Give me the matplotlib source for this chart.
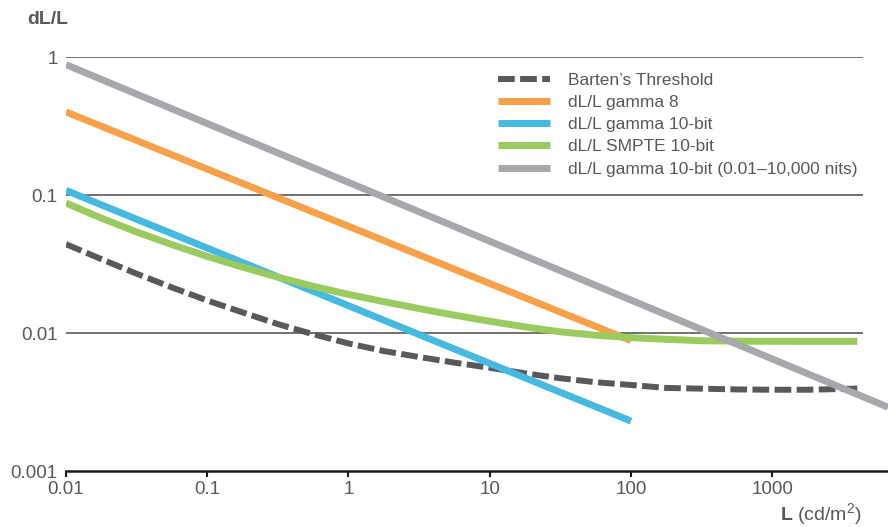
import numpy as np
import matplotlib.pyplot as plt

plt.rcParams['font.family'] = ['Liberation Sans', 'DejaVu Sans']
plt.rcParams['mathtext.fontset'] = 'custom'
plt.rcParams['mathtext.rm'] = 'Liberation Sans'
plt.rcParams['mathtext.bf'] = 'Liberation Sans:bold'

# values (log-log), quarter-decade steps
curve_L = [0.01, 0.0178, 0.0316, 0.0562, 0.1, 0.178, 0.316, 0.562, 1, 1.78, 3.16, 5.62,
           10, 17.8, 31.6, 56.2, 100, 178, 316, 562, 1000, 1780, 3160, 4000]

barten_y = [0.044, 0.0343, 0.0269, 0.0214, 0.0172, 0.0141, 0.0116, 0.0098, 0.0084, 0.0074,
            0.0067, 0.0061, 0.0056, 0.0051, 0.0047, 0.0044, 0.0042, 0.0040, 0.00395, 0.0039,
            0.00388, 0.00388, 0.00393, 0.00396]

smpte_y = [0.0875, 0.0679, 0.0540, 0.0437, 0.0359, 0.0300, 0.0254, 0.0218, 0.01905, 0.01687,
           0.01503, 0.01346, 0.01216, 0.01107, 0.0102, 0.00964, 0.00925, 0.0090, 0.00879,
           0.00873, 0.00871, 0.0087, 0.0087, 0.0087]

gamma8_L = [0.01, 100]
gamma8_y = [0.40, 0.0088]

gamma10_L = [0.01, 100]
gamma10_y = [0.108, 0.0023]

gray_L = [0.01, 6600]
gray_y = [0.88, 0.0029]

x_ticks = [0.01, 0.1, 1, 10, 100, 1000]
x_labels = ['0.01', '0.1', '1', '10', '100', '1000']
y_ticks = [0.001, 0.01, 0.1, 1]
y_labels = ['0.001', '0.01', '0.1', '1']

fig = plt.figure(figsize=(8.88, 5.27), dpi=100)
ax = fig.add_axes([66 / 888, 1 - 471 / 527, 1 - 66 / 888, (471 - 57) / 527])
ax.set_xscale('log')
ax.set_yscale('log')
ax.set_xlim(0.01, 6600)
ax.set_ylim(0.001, 1)

ax.hlines([0.01, 0.1, 1], 0.01, 4400, color='#4a4a4a', lw=1.1, zorder=1)

ax.plot(curve_L, barten_y, color='#58595b', lw=4.3, dashes=(2.8, 0.9),
        label='Barten\u2019s Threshold', zorder=3)
ax.plot(gamma8_L, gamma8_y, color='#f9a04a', lw=5, solid_capstyle='butt',
        label='dL/L gamma 8', zorder=3)
ax.plot(gamma10_L, gamma10_y, color='#46b9e1', lw=5, solid_capstyle='butt',
        label='dL/L gamma 10-bit', zorder=3)
ax.plot(curve_L, smpte_y, color='#9acb5e', lw=5, solid_capstyle='butt',
        solid_joinstyle='round', label='dL/L SMPTE 10-bit', zorder=3)
ax.plot(gray_L, gray_y, color='#a7a8ac', lw=5, solid_capstyle='butt',
        label='dL/L gamma 10-bit (0.01\u201310,000 nits)', zorder=4)

for s in ['top', 'right', 'left']:
    ax.spines[s].set_visible(False)
ax.spines['bottom'].set_linewidth(1.8)
ax.spines['bottom'].set_color('#1a1a1a')

ax.set_xticks(x_ticks)
ax.set_xticklabels(x_labels)
ax.set_yticks(y_ticks)
ax.set_yticklabels(y_labels)
ax.minorticks_off()
ax.tick_params(axis='x', direction='out', length=4, width=1.5, color='#1a1a1a',
               labelsize=13.5, labelcolor='#58595b', pad=3)
ax.tick_params(axis='y', length=0, labelsize=13.5, labelcolor='#58595b', pad=6)

leg = ax.legend(loc='upper left', bbox_to_anchor=(0.5175, 0.978), frameon=False,
                fontsize=12.5, handlelength=3.0, handletextpad=1.0,
                labelspacing=0.4, borderaxespad=0)
for t in leg.get_texts():
    t.set_color('#58595b')

fig.text(27 / 888, 1 - 20 / 527, 'dL/L', fontsize=14, fontweight='bold',
         color='#58595b', va='center', ha='left')
fig.text(862 / 888, 1 - 515 / 527, r'$\mathbf{L}$ (cd/m$^{2}$)', fontsize=14,
         color='#58595b', va='center', ha='right')

fig.savefig('out.png', dpi=100)
